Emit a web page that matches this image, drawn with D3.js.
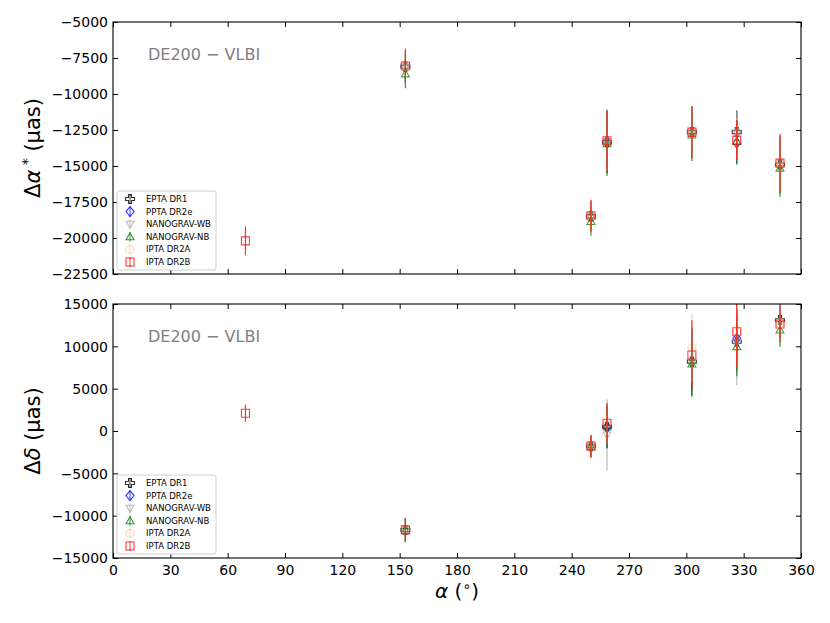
<!DOCTYPE html>
<html lang="en">
<head>
    <meta charset="UTF-8">
    <title>DE200 - VLBI</title>
    <script src="https://d3js.org/d3.v7.min.js"></script>
    <style>
        body { margin: 0; background: white; }
        text { font-family: 'DejaVu Sans', sans-serif; }
    </style>
</head>
<body>
<script>
    const width = 830;
    const height = 623;

    // pulsar right ascensions (deg)
    const alphas = [69.3, 153.0, 250.1, 258.5, 302.9, 326.4, 349.0];

    const seriesNames = ['EPTA DR1', 'PPTA DR2e', 'NANOGRAV-WB', 'NANOGRAV-NB', 'IPTA DR2A', 'IPTA DR2B'];
    const seriesColors = ['#000000', '#0000ff', '#a9a9a9', '#008000', '#ffc890', '#ff0000'];
    const seriesMarkers = ['plus', 'diamond', 'tridown', 'triup', 'circle', 'square'];

    // delta alpha* (uas) and errors
    const raEpta     = [null, -8100, -18500, -13350, -12650, -12650, -14900];
    const raEptaErr  = [null, 1000, 1000, 2100, 1800, 1500, 2000];
    const raPpta     = [null, null, null, -13300, null, -13400, null];
    const raPptaErr  = [null, null, null, 2200, null, 1500, null];
    const raNgWb     = [null, -8150, -18500, -13350, -12700, -12700, -14950];
    const raNgWbErr  = [null, 1000, 1100, 2200, 1800, 1500, 2000];
    const raNgNb     = [null, -8600, -18850, -13450, -12850, -13300, -15150];
    const raNgNbErr  = [null, 1000, 1000, 2250, 1800, 1500, 2000];
    const raDr2a     = [null, -8050, -18450, -13250, -12650, -13150, -14800];
    const raDr2aErr  = [null, 1200, 1100, 2100, 1800, 1400, 2000];
    const raDr2b     = [-20200, -8060, -18450, -13250, -12650, -13200, -14800];
    const raDr2bErr  = [1000, 1200, 1100, 2100, 1800, 1400, 2000];

    // delta delta (uas) and errors
    const decEpta    = [null, -11700, -1800, 500, 8190, 10550, 13110];
    const decEptaErr = [null, 1400, 1300, 2500, 4000, 3500, 2200];
    const decPpta    = [null, null, null, 440, null, 10950, null];
    const decPptaErr = [null, null, null, 2500, null, 3500, null];
    const decNgWb    = [null, -11700, -1800, -470, 8100, 10400, 12900];
    const decNgWbErr = [null, 1400, 1300, 4200, 4000, 5000, 2200];
    const decNgNb    = [null, -11750, -1850, 500, 7920, 9960, 11930];
    const decNgNbErr = [null, 1400, 1300, 2500, 3870, 3500, 2000];
    const decDr2a    = [null, -11650, -1750, 900, 9800, 11700, 12700];
    const decDr2aErr = [null, 1400, 1300, 2400, 4100, 4100, 2200];
    const decDr2b    = [2100, -11680, -1765, 915, 8980, 11730, 12640];
    const decDr2bErr = [1000, 1400, 1300, 2400, 4100, 4100, 2200];

    const xTicks = [0, 30, 60, 90, 120, 150, 180, 210, 240, 270, 300, 330, 360];
    const raTicks = [-5000, -7500, -10000, -12500, -15000, -17500, -20000, -22500];
    const decTicks = [15000, 10000, 5000, 0, -5000, -10000, -15000];

    const left = 113, right = 801;

    const svg = d3.select("body").append("svg").attr("width", width).attr("height", height);

    const x = d3.scaleLinear().domain([0, 360]).range([left, right]);

    function markerPath(type) {
        switch (type) {
            case 'plus': return "M-1.5,-4.5L1.5,-4.5L1.5,-1.5L4.5,-1.5L4.5,1.5L1.5,1.5L1.5,4.5L-1.5,4.5L-1.5,1.5L-4.5,1.5L-4.5,-1.5L-1.5,-1.5Z";
            case 'diamond': return "M0,-5L4,0L0,5L-4,0Z";
            case 'tridown': return "M-4,-3L4,-3L0,4Z";
            case 'triup': return "M-4,3L4,3L0,-4Z";
            case 'circle': return d3.arc()({innerRadius: 0, outerRadius: 4, startAngle: 0, endAngle: 2 * Math.PI});
            case 'square': return "M-4,-4L4,-4L4,4L-4,4Z";
        }
    }

    const minus = s => String(s).replace('-', '\u2212');

    function drawPanel(top, bottom, ydomain, yticks, values, errs, ylabel, showX, id) {
        const y = d3.scaleLinear().domain(ydomain).range([bottom, top]);
        const g = svg.append("g");

        svg.append("clipPath").attr("id", id)
            .append("rect").attr("x", left).attr("y", top).attr("width", right - left).attr("height", bottom - top);

        const plot = g.append("g").attr("clip-path", `url(#${id})`);

        values.forEach((vals, s) => {
            const pts = alphas.map((a, i) => ({a: a, v: vals[i], e: errs[s][i]})).filter(d => d.v !== null);
            const sg = plot.append("g");
            sg.selectAll("line").data(pts).enter().append("line")
                .attr("x1", d => x(d.a)).attr("x2", d => x(d.a))
                .attr("y1", d => y(d.v - d.e)).attr("y2", d => y(d.v + d.e))
                .attr("stroke", seriesColors[s]).attr("stroke-width", 1.2).attr("opacity", 0.8);
            sg.selectAll("path").data(pts).enter().append("path")
                .attr("transform", d => `translate(${x(d.a)},${y(d.v)})`)
                .attr("d", markerPath(seriesMarkers[s]))
                .attr("fill", "none").attr("stroke", seriesColors[s]).attr("stroke-width", 1.1).attr("opacity", 0.75);
        });

        // axes with inward ticks on all sides
        const tickLen = 5;
        g.append("g").attr("transform", `translate(0,${bottom})`)
            .call(d3.axisBottom(x).tickValues(xTicks).tickSizeInner(-tickLen).tickSizeOuter(0)
                .tickFormat(showX ? d3.format("d") : ""))
            .call(a => a.select(".domain").remove())
            .call(a => a.selectAll("text").attr("dy", 0).attr("y", 17).style("font-size", "14px"));
        g.append("g").attr("transform", `translate(0,${top})`)
            .call(d3.axisTop(x).tickValues(xTicks).tickSizeInner(-tickLen).tickSizeOuter(0).tickFormat(""))
            .call(a => a.select(".domain").remove());
        g.append("g").attr("transform", `translate(${left},0)`)
            .call(d3.axisLeft(y).tickValues(yticks).tickSizeInner(-tickLen).tickSizeOuter(0).tickFormat(d => minus(d)))
            .call(a => a.select(".domain").remove())
            .call(a => a.selectAll("text").attr("x", -5).attr("dy", "0.35em").style("font-size", "14px"));
        g.append("g").attr("transform", `translate(${right},0)`)
            .call(d3.axisRight(y).tickValues(yticks).tickSizeInner(-tickLen).tickSizeOuter(0).tickFormat(""))
            .call(a => a.select(".domain").remove());
        g.selectAll(".tick line").attr("stroke", "#000").attr("stroke-width", 1);

        g.append("rect").attr("x", left).attr("y", top).attr("width", right - left).attr("height", bottom - top)
            .attr("fill", "none").attr("stroke", "#000").attr("stroke-width", 1.1);

        // annotation
        g.append("text").attr("x", 148).attr("y", top + 38).attr("fill", "#808080")
            .style("font-size", "16px").text("DE200 \u2212 VLBI");

        // y label
        const yl = g.append("text")
            .attr("transform", `translate(40,${(top + bottom) / 2}) rotate(-90)`)
            .attr("text-anchor", "middle").style("font-size", "21px");
        ylabel(yl);

        // legend
        const lx = left + 4, lw = 99, lh = 79, ly = bottom - 4 - lh;
        const lg = g.append("g");
        lg.append("rect").attr("x", lx).attr("y", ly).attr("width", lw).attr("height", lh)
            .attr("rx", 2).attr("fill", "white").attr("stroke", "#d0d0d0").attr("stroke-width", 1);
        seriesNames.forEach((name, s) => {
            const ry = ly + 8 + s * 12.6;
            lg.append("line").attr("x1", lx + 13).attr("x2", lx + 13).attr("y1", ry - 5).attr("y2", ry + 5)
                .attr("stroke", seriesColors[s]).attr("stroke-width", 1).attr("opacity", 0.8);
            lg.append("path").attr("transform", `translate(${lx + 13},${ry})`).attr("d", markerPath(seriesMarkers[s]))
                .attr("fill", "none").attr("stroke", seriesColors[s]).attr("stroke-width", 1.1).attr("opacity", 0.8);
            lg.append("text").attr("x", lx + 29).attr("y", ry).attr("dy", "0.35em")
                .style("font-size", "8.5px").text(name);
        });
    }

    drawPanel(22, 274, [-22500, -5000], raTicks,
        [raEpta, raPpta, raNgWb, raNgNb, raDr2a, raDr2b],
        [raEptaErr, raPptaErr, raNgWbErr, raNgNbErr, raDr2aErr, raDr2bErr],
        t => {
            t.append("tspan").text("\u0394");
            t.append("tspan").style("font-style", "italic").text("\u03b1");
            t.append("tspan").attr("dy", -8).style("font-size", "14px").text(" *");
            t.append("tspan").attr("dy", 8).text(" (\u03bcas)");
        }, false, "clipTop");

    drawPanel(304, 558, [-15000, 15000], decTicks,
        [decEpta, decPpta, decNgWb, decNgNb, decDr2a, decDr2b],
        [decEptaErr, decPptaErr, decNgWbErr, decNgNbErr, decDr2aErr, decDr2bErr],
        t => {
            t.append("tspan").text("\u0394");
            t.append("tspan").style("font-style", "italic").text("\u03b4");
            t.append("tspan").text(" (\u03bcas)");
        }, true, "clipBottom");

    // x label
    const xl = svg.append("text").attr("x", (left + right) / 2).attr("y", 598)
        .attr("text-anchor", "middle").style("font-size", "20px");
    xl.append("tspan").style("font-style", "italic").text("\u03b1");
    xl.append("tspan").text(" (");
    xl.append("tspan").attr("dy", -7).style("font-size", "14px").text("\u2218");
    xl.append("tspan").attr("dy", 7).text(")");
</script>
</body>
</html>
